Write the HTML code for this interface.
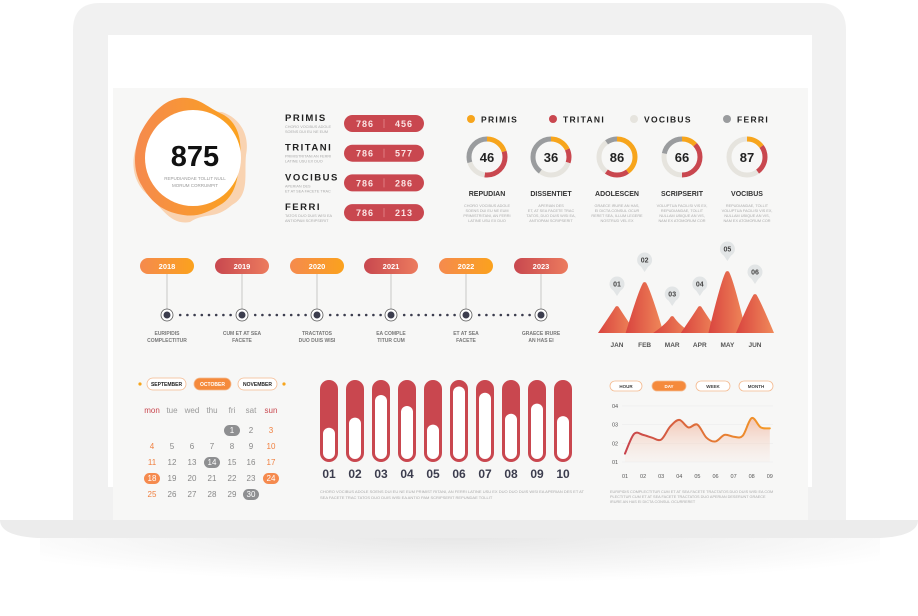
<!DOCTYPE html>
<html><head><meta charset="utf-8">
<style>
html,body{margin:0;padding:0;background:#fff;}
svg{display:block;font-family:"Liberation Sans",sans-serif;}
</style></head>
<body>
<svg id="s" width="918" height="616" viewBox="0 0 918 616" xmlns="http://www.w3.org/2000/svg">
<defs>
<linearGradient id="gOr" x1="0" x2="1"><stop offset="0" stop-color="#f58a4e"/><stop offset="1" stop-color="#fba21d"/></linearGradient>
<linearGradient id="gRd" x1="0" x2="1"><stop offset="0" stop-color="#c8484f"/><stop offset="1" stop-color="#ec7b5e"/></linearGradient>
<linearGradient id="gMt" x1="0" x2="1"><stop offset="0" stop-color="#d9443f"/><stop offset="1" stop-color="#f08a5a"/></linearGradient>
<linearGradient id="gLn" x1="0" x2="1"><stop offset="0" stop-color="#c8434c"/><stop offset="1" stop-color="#f59a26"/></linearGradient>
<linearGradient id="gAr" x1="0" y1="0" x2="0" y2="1"><stop offset="0" stop-color="#f2b9a2" stop-opacity="0.8"/><stop offset="1" stop-color="#f7e6de" stop-opacity="0.2"/></linearGradient>
<radialGradient id="gSh" cx="0.5" cy="0" r="0.6"><stop offset="0" stop-color="#e6e6e6"/><stop offset="1" stop-color="#fff"/></radialGradient>
</defs>
<rect x="40" y="535" width="840" height="80" fill="url(#gSh)"/>
<path d="M73 30 Q73 3 100 3 L819 3 Q846 3 846 30 L846 525 L73 525 Z" fill="#f1f1f1"/>
<rect x="108" y="35" width="704" height="452" fill="#ffffff"/>
<rect x="113" y="88" width="695" height="437" fill="#f7f7f6"/>
<path d="M0 520 L918 520 Q918 536 880 538 L38 538 Q0 536 0 520 Z" fill="#ececec"/>

<!-- blob -->
<g>
<path d="M185 100 C200 95 205 112 222 112 C240 118 250 135 246 155 C244 175 250 195 232 205 C215 220 205 212 190 222 C170 226 160 205 148 195 C132 182 130 160 138 142 C140 125 168 108 185 100 Z" fill="#f9c9a0" opacity="0.8"/>
<path d="M180 98 C198 96 208 108 222 114 C238 122 242 140 240 158 C238 178 236 196 220 205 C205 214 195 218 178 214 C160 210 150 200 142 186 C132 170 134 150 140 134 C148 118 162 100 180 98 Z" fill="url(#gOr)"/>
<circle cx="193" cy="158" r="48" fill="#fff"/>
<text x="195" y="166" text-anchor="middle" font-size="29" font-weight="bold" fill="#111">875</text>
<text x="195" y="180" text-anchor="middle" font-size="4.5" fill="#999">REPUDIANDAE TOLLIT NULL</text>
<text x="195" y="187" text-anchor="middle" font-size="4.5" fill="#999">MORUM CORRUMPIT</text>
</g>
<g id="stats"></g>
<g id="legend"></g>
<g id="donuts"></g>
<g id="timeline"></g>
<g id="mountains"></g>
<g id="calendar"></g>
<g id="bars"></g>
<g id="linechart"></g>
</svg>
<script>
const NS="http://www.w3.org/2000/svg";
function mk(p,t,a,txt){const e=document.createElementNS(NS,t);for(const k in a)e.setAttribute(k,a[k]);if(txt!==undefined)e.textContent=txt;p.appendChild(e);return e;}
const $=id=>document.getElementById(id);

// stats
const statNames=["PRIMIS","TRITANI","VOCIBUS","FERRI"];
const statA=[786,786,786,786];
const statB=[456,577,286,213];
const statDesc=[["CHORO VOCIBUS ADOLE","SOENS DUI EU NE EUM"],["PRIMISTRITANI AN FERRI","LATINE USU EX DUO"],["APERIAN DES","ET AT SEA FACETE TRAC"],["TATOS DUO DUIS WISI EA","ANTIOPAM SCRIPSERIT"]];
statNames.forEach((n,i)=>{const y=118+i*29.7;const g=$("stats");
 let t=mk(g,"text",{x:285,y:y+3,"font-size":9.5,"font-weight":"bold","letter-spacing":"1.5",fill:"#222"},n);
 
 
 mk(g,"text",{x:285,y:y+10,"font-size":3.8,fill:"#aaa"},statDesc[i][0]);
 mk(g,"text",{x:285,y:y+15,"font-size":3.8,fill:"#aaa"},statDesc[i][1]);
 const p=mk(g,"rect",{x:344,y:y-3,width:80,height:17,rx:8.5,fill:"#c9474f"});
 
 
 mk(g,"line",{x1:384,x2:384,y1:y+1,y2:y+10,stroke:"#e58a8f","stroke-width":0.8});
 mk(g,"text",{x:365,y:y+9,"text-anchor":"middle","font-size":9,"font-weight":"bold","letter-spacing":"1",fill:"#fbe3e3"},statA[i]);
 mk(g,"text",{x:404,y:y+9,"text-anchor":"middle","font-size":9,"font-weight":"bold","letter-spacing":"1",fill:"#fbe3e3"},statB[i]);
});

// legend + donuts
const legNames=["PRIMIS","TRITANI","VOCIBUS","FERRI"];
const legCols=["#f7a51c","#c9474f","#e6e4de","#9a9c9e"];
const legX=[471,553,634,727];
legNames.forEach((n,i)=>{const g=$("legend");
 const c=mk(g,"circle",{cx:legX[i],cy:119,r:4,fill:legCols[i]});
 
 
 const t=mk(g,"text",{x:legX[i]+10,y:122.5,"font-size":8.5,"font-weight":"bold","letter-spacing":"1.3",fill:"#222"},n);
 
 
});
const donutVals=[46,36,86,66,87];
const donutNames=["REPUDIAN","DISSENTIET","ADOLESCEN","SCRIPSERIT","VOCIBUS"];
// segment fractions (primis, tritani, vocibus, ferri)
const donutSegs=[[0.2,0.32,0.18,0.3],[0.18,0.12,0.3,0.4],[0.4,0.2,0.3,0.1],[0.13,0.37,0.28,0.22],[0.15,0.25,0.6,0.0]];
const donutDesc=[["CHORO VOCIBUS ADOLE","SOENS DUI EU NE EUM","PRIMISTRITANI, AN FERRI","LATINE USU EX DUO"],["APERIAN DES","ET, AT SEA FACETE TRAC","TATOS, DUO DUIS WISI EA,","ANTIOPAM SCRIPSERIT"],["GRAECE IRURE AN HAS,","EI DICTA CONSUL OCUR","RERET SEA, ILLUM LEGERE","NOSTRUD VEL EX"],["VOLUPTUA FACILISI VIS EX,","REPUDIANDAE, TOLLIT","NULLAM UBIQUE AN VIS,","NAM EX ATOMORUM COR"],["REPUDIANDAE, TOLLIT","VOLUPTUA FACILISI VIS EX,","NULLAM UBIQUE AN VIS,","NAM EX ATOMORUM COR"]];
const donutX=[487,551,617,682,747];
donutVals.forEach((v,i)=>{const g=$("donuts");const cx=donutX[i],cy=157,r=18;const C=2*Math.PI*r;let off=0;
 donutSegs[i].forEach((f,k)=>{if(f<=0)return;const s=mk(g,"circle",{cx,cy,r,fill:"none",stroke:legCols[k],"stroke-width":5,"stroke-dasharray":(f*C)+" "+C,"stroke-dashoffset":-off*C,transform:`rotate(-90 ${cx} ${cy})`});
  
  off+=f;});
 const t=mk(g,"text",{x:cx,y:cy+5,"text-anchor":"middle","font-size":13,"font-weight":"bold",fill:"#222"},v);
 
 
 mk(g,"text",{x:cx,y:196,"text-anchor":"middle","font-size":7,"font-weight":"bold",fill:"#333"},donutNames[i]);
 donutDesc[i].forEach((d,j)=>mk(g,"text",{x:cx,y:207+j*5,"text-anchor":"middle","font-size":3.8,fill:"#aaa"},d));
});

// timeline
const years=["2018","2019","2020","2021","2022","2023"];
const yearLbl=[["EURIPIDIS","COMPLECTITUR"],["CUM ET AT SEA","FACETE"],["TRACTATOS","DUO DUIS WISI"],["EA COMPLE","TITUR CUM"],["ET AT SEA","FACETE"],["GRAECE IRURE","AN HAS EI"]];
const yearX=[167,242,317,391,466,541];
years.forEach((y,i)=>{const g=$("timeline");const x=yearX[i];
 mk(g,"line",{x1:x,x2:x,y1:270,y2:309,stroke:"#bbb","stroke-width":0.8});
 const p=mk(g,"rect",{x:x-27,y:258,width:54,height:16,rx:8,fill:i%2?"url(#gRd)":"url(#gOr)"});
 
 
 mk(g,"text",{x,y:269,"text-anchor":"middle","font-size":7.5,"font-weight":"bold",fill:"#fff"},y);
 mk(g,"circle",{cx:x,cy:315,r:6,fill:"#fff",stroke:"#555","stroke-width":0.8});
 mk(g,"circle",{cx:x,cy:315,r:3.5,fill:"#3c3d4e"});
 if(i<5)for(let k=1;k<=8;k++)mk(g,"circle",{cx:x+6+k*7.2,cy:315,r:1.3,fill:"#3c3d4e"});
 mk(g,"text",{x,y:335,"text-anchor":"middle","font-size":5,"font-weight":"bold",fill:"#777"},yearLbl[i][0]);
 mk(g,"text",{x,y:342,"text-anchor":"middle","font-size":5,"font-weight":"bold",fill:"#777"},yearLbl[i][1]);
});

// mountains
const months=["JAN","FEB","MAR","APR","MAY","JUN"];
const mtVals=[27,51,17,27,62,39];
const mtBase=333,mtScale=1.0;
const mtX=i=>617+i*27.6;
const mtY=v=>mtBase-v*mtScale;
months.forEach((m,i)=>{const g=$("mountains");const x=mtX(i),top=mtY(mtVals[i]);
 const p=mk(g,"path",{d:`M${x-19} ${mtBase} Q${x-6} ${top+8} ${x-1.5} ${top+0.8} Q${x} ${top-0.5} ${x+1.5} ${top+0.8} Q${x+6} ${top+8} ${x+19} ${mtBase} Z`,fill:"url(#gMt)"});
 
 
 const by=top-22;
 mk(g,"path",{d:`M${x-4} ${by+6} L${x} ${by+12} L${x+4} ${by+6} Z`,fill:"#e2e5e6"});
 mk(g,"circle",{cx:x,cy:by,r:7.5,fill:"#e2e5e6"});
 mk(g,"text",{x,y:by+2.7,"text-anchor":"middle","font-size":7,"font-weight":"bold",fill:"#444"},"0"+(i+1));
 mk(g,"text",{x,y:347,"text-anchor":"middle","font-size":6.5,"font-weight":"bold",fill:"#555"},m);
});

// calendar
(function(){const g=$("calendar");
 mk(g,"circle",{cx:140,cy:384,r:1.6,fill:"#f7a51c"});mk(g,"circle",{cx:284,cy:384,r:1.6,fill:"#f7a51c"});
 const ms=[["SEPTEMBER",147,39,false],["OCTOBER",194,37,true],["NOVEMBER",238,39,false]];
 ms.forEach(m=>{const r=mk(g,"rect",{x:m[1],y:378,width:m[2],height:12,rx:6,fill:m[3]?"#f58a3c":"#fff",stroke:"#f4b98e","stroke-width":0.8});
  
  
  mk(g,"text",{x:m[1]+m[2]/2,y:386,"text-anchor":"middle","font-size":5,"font-weight":"bold",fill:m[3]?"#fff":"#222"},m[0]);});
 const wd=["mon","tue","wed","thu","fri","sat","sun"];const cx=[152,172,192,212,232,251,271];
 wd.forEach((d,i)=>mk(g,"text",{x:cx[i],y:413,"text-anchor":"middle","font-size":8,fill:(i==0||i==6)?"#c9474f":"#999"},d));
 const hiGray=[1,14,30],hiOr=[18,24];
 for(let d=1;d<=30;d++){const idx=d+3;const col=idx%7,row=Math.floor(idx/7);const x=cx[col],y=433+row*16;
  if(hiGray.includes(d)||hiOr.includes(d))mk(g,"rect",{x:x-8,y:y-8,width:16,height:11,rx:5.5,fill:hiOr.includes(d)?"#f58a4e":"#8e8f91"});
  const t=mk(g,"text",{x,y,"text-anchor":"middle","font-size":8,fill:(hiGray.includes(d)||hiOr.includes(d))?"#fff":(col==0||col==6)?"#f08040":"#888"},d);
  
  
 }})();

// bars (thermometer)
const barCats=["01","02","03","04","05","06","07","08","09","10"];
const barVals=[40,53,82,68,44,93,85,58,71,55];
const barTop=380,barBot=462,barW=18;
const barX=i=>329+i*26;
const barH=v=>(barBot-barTop-4)*v/100;
barCats.forEach((c,i)=>{const g=$("bars");const x=barX(i);
 const r=mk(g,"rect",{x:x-barW/2,y:barTop,width:barW,height:barBot-barTop,rx:9,fill:"#c9474f"});
 
 
 const h=barH(barVals[i]);
 const w=mk(g,"rect",{x:x-6,y:barBot-3-h,width:12,height:h,rx:6,fill:"#fff"});
 
 
 mk(g,"text",{x,y:478,"text-anchor":"middle","font-size":12,"font-weight":"bold",fill:"#3c3d4e"},c);
});
mk($("bars"),"text",{x:320,y:493,"font-size":4,fill:"#aaa"},"CHORO VOCIBUS ADOLE SOENS DUI EU NE EUM PRIMIST RITANI, AN FERRI LATINE USU EX DUO DUO DUIS WISI EA APERIAN DES ET AT");
mk($("bars"),"text",{x:320,y:499,"font-size":4,fill:"#aaa"},"SEA FACETE TRAC TATOS DUO DUIS WISI EA ANTIO PAM SCRIPSERIT REPUNDAE TOLLIT");

// line chart
const lcX=["01","02","03","04","05","06","07","08","09"];
const lcY=["01","02","03","04"];
const lcVals=[1.45,2.45,2.2,3.25,3.0,2.1,2.35,3.35,2.8];
const lcMid=[2.5,2.3,2.9,2.85,2.3,2.45,2.4,2.85];
const lx=i=>625+i*18.1;
const ly=v=>462-(v-1)*18.7;
(function(){const g=$("linechart");
 const btn=[["HOUR",610,32,false],["DAY",652,34,true],["WEEK",696,34,false],["MONTH",739,34,false]];
 btn.forEach(b=>{const r=mk(g,"rect",{x:b[1],y:381,width:b[2],height:10,rx:5,fill:b[3]?"#f58a3c":"#fff",stroke:"#f4b98e","stroke-width":0.8});
  
  
  mk(g,"text",{x:b[1]+b[2]/2,y:388,"text-anchor":"middle","font-size":4.5,"font-weight":"bold",fill:b[3]?"#fff":"#444"},b[0]);});
 lcY.forEach((t,i)=>{const y=ly(i+1);mk(g,"line",{x1:622,x2:773,y1:y,y2:y,stroke:"#ececec","stroke-width":0.6});
  mk(g,"text",{x:612,y:y+2,"font-size":5.5,fill:"#555"},t);});
 lcX.forEach((t,i)=>mk(g,"text",{x:lx(i),y:478,"text-anchor":"middle","font-size":5.5,fill:"#555"},t));
 const pts=[];lcVals.forEach((v,i)=>{pts.push([lx(i),ly(v)]);if(i<lcMid.length)pts.push([lx(i+0.5),ly(lcMid[i])]);});
 let d=`M${pts[0][0]} ${pts[0][1]}`;
 for(let i=0;i<pts.length-1;i++){const p0=pts[Math.max(0,i-1)],p1=pts[i],p2=pts[i+1],p3=pts[Math.min(pts.length-1,i+2)];
  d+=` C${p1[0]+(p2[0]-p0[0])/6} ${p1[1]+(p2[1]-p0[1])/6} ${p2[0]-(p3[0]-p1[0])/6} ${p2[1]-(p3[1]-p1[1])/6} ${p2[0]} ${p2[1]}`;}
 mk(g,"path",{d:d+` L${pts[pts.length-1][0]} ${ly(1)} L${pts[0][0]} ${ly(1)} Z`,fill:"url(#gAr)"});
 const ln=mk(g,"path",{d,fill:"none",stroke:"url(#gLn)","stroke-width":2,"stroke-linecap":"round"});
 
 
 ["EURIPIDIS COMPLECTITUR CUM ET AT SEA FACETE TRACTATOS DUO DUIS WISI EA COM","PLECTITUR CUM ET AT SEA FACETE TRACTATOS DUO APERIAN DESERUNT GRAECE","IRURE AN HAS EI DICTA CONSUL OCURRERET"].forEach((s,i)=>mk(g,"text",{x:610,y:493+i*5,"font-size":3.8,fill:"#aaa"},s));
})();
</script>
</body></html>
